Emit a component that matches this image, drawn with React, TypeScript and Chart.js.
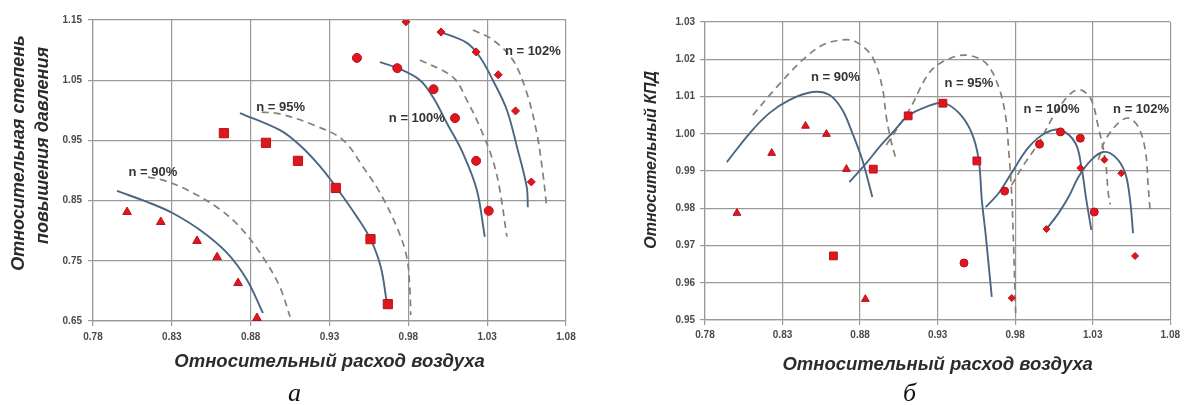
import React, { useEffect, useRef } from 'react';
import { Chart, registerables } from 'chart.js';
Chart.register(...registerables);

// ---------- tick labels ----------
const xTicks = [0.78, 0.83, 0.88, 0.93, 0.98, 1.03, 1.08];
const leftYTicks = [0.65, 0.75, 0.85, 0.95, 1.05, 1.15];
const rightYTicks = [0.95, 0.96, 0.97, 0.98, 0.99, 1.0, 1.01, 1.02, 1.03];

// ---------- chart a: pressure ratio ----------
const aTri90 = [[0.8016, 0.831], [0.823, 0.8145], [0.846, 0.783], [0.8587, 0.756], [0.872, 0.713], [0.884, 0.655]];
const aSq95 = [[0.863, 0.962], [0.8897, 0.946], [0.91, 0.916], [0.934, 0.871], [0.956, 0.786], [0.967, 0.678]];
const aCir100 = [[0.9474, 1.087], [0.973, 1.07], [0.996, 1.035], [1.0096, 0.987], [1.023, 0.916], [1.031, 0.833]];
const aDia102 = [[0.9785, 1.147], [1.0007, 1.13], [1.023, 1.097], [1.037, 1.059], [1.048, 0.999], [1.058, 0.881]];

const aSolid90 = [[0.7952, 0.866], [0.8161, 0.846], [0.8307, 0.829], [0.8479, 0.801], [0.865, 0.763], [0.8777, 0.718], [0.8878, 0.663]];
const aDash90 = [[0.8149, 0.889], [0.8244, 0.884], [0.8396, 0.868], [0.8586, 0.839], [0.8732, 0.806], [0.8878, 0.756], [0.8986, 0.706], [0.905, 0.657]];
const aSolid95 = [[0.8732, 0.9955], [0.8986, 0.967], [0.9112, 0.942], [0.924, 0.907], [0.934, 0.873], [0.9474, 0.823], [0.956, 0.786], [0.9625, 0.74], [0.9664, 0.68]];
const aDash95 = [[0.887, 0.997], [0.8986, 0.994], [0.9195, 0.976], [0.9385, 0.951], [0.9512, 0.906], [0.962, 0.863], [0.9727, 0.806], [0.979, 0.756], [0.981, 0.702], [0.9815, 0.66]];
const aSolid100 = [[0.962, 1.08], [0.9734, 1.07], [0.9874, 1.05], [0.9956, 1.022], [1.0044, 0.979], [1.0146, 0.929], [1.0234, 0.868], [1.0285, 0.79]];
const aDash100 = [[0.9874, 1.0836], [1.0083, 1.055], [1.0171, 1.017], [1.0254, 0.972], [1.0336, 0.917], [1.038, 0.868], [1.0425, 0.79]];
const aSolid102 = [[1.0007, 1.13], [1.0171, 1.112], [1.0254, 1.0885], [1.0336, 1.05], [1.0425, 1.0005], [1.0494, 0.934], [1.0551, 0.8725], [1.0558, 0.839]];
const aDash102 = [[1.021, 1.1334], [1.0336, 1.117], [1.0463, 1.0836], [1.0551, 1.029], [1.0615, 0.962], [1.0653, 0.896], [1.0678, 0.839]];

// ---------- chart б: efficiency ----------
const bTri90 = [[0.8006, 0.9787], [0.823, 0.9948], [0.8448, 1.0021], [0.8583, 0.9999], [0.8712, 0.9905], [0.8834, 0.9556]];
const bSq95 = [[0.8628, 0.9672], [0.8885, 0.9905], [0.911, 1.0048], [0.9334, 1.0082], [0.9553, 0.9927]];
const bCir100 = [[0.947, 0.9653], [0.9732, 0.9846], [0.9957, 0.9972], [1.0092, 1.0005], [1.022, 0.9988], [1.031, 0.979]];
const bDia102 = [[0.9778, 0.9559], [1.0002, 0.9744], [1.022, 0.9908], [1.0375, 0.993], [1.0484, 0.9894], [1.0573, 0.9672]];

const bSolid90 = [[0.7941, 0.9924], [0.8089, 1.0002], [0.8217, 1.0056], [0.8346, 1.0091], [0.8493, 1.0112], [0.8603, 1.0104], [0.8686, 1.0064], [0.875, 1.0002], [0.8814, 0.993], [0.8879, 0.983]];
const bDash90 = [[0.8108, 1.005], [0.8262, 1.0125], [0.8429, 1.0198], [0.8558, 1.0238], [0.8686, 1.0252], [0.8776, 1.0246], [0.8879, 1.0206], [0.8943, 1.0125], [0.8969, 1.0045], [0.9, 0.998], [0.9033, 0.993]];
const bSolid95 = [[0.8731, 0.987], [0.884, 0.9921], [0.8924, 0.9964], [0.9007, 1.0002], [0.911, 1.0048], [0.9226, 1.0072], [0.9334, 1.0083], [0.9437, 1.0056], [0.952, 1.0002], [0.9565, 0.993], [0.9585, 0.9822], [0.961, 0.9728], [0.9649, 0.9562]];
const bDash95 = [[0.8969, 0.997], [0.9117, 1.0064], [0.9245, 1.0163], [0.9355, 1.0198], [0.9483, 1.0211], [0.961, 1.019], [0.9694, 1.0125], [0.9739, 1.0045], [0.9758, 0.9956], [0.9777, 0.9841], [0.979, 0.9696], [0.9803, 0.9519]];
const bSolid100 = [[0.961, 0.9803], [0.9694, 0.9841], [0.9777, 0.9895], [0.9887, 0.9964], [0.9996, 1.0002], [1.0092, 1.001], [1.0188, 0.9975], [1.0227, 0.9911], [1.0259, 0.9822], [1.0291, 0.9742]];
const bDash100 = [[0.9777, 0.9862], [0.9854, 0.9916], [0.9951, 0.9975], [1.006, 1.0056], [1.0163, 1.011], [1.0227, 1.0117], [1.0291, 1.0091], [1.0336, 1.0018], [1.0381, 0.993], [1.04, 0.9841], [1.0413, 0.981]];
const bSolid102 = [[1.0002, 0.9744], [1.008, 0.9787], [1.0144, 0.983], [1.0208, 0.9884], [1.0291, 0.993], [1.0368, 0.9951], [1.0445, 0.9938], [1.0509, 0.9895], [1.0541, 0.9822], [1.056, 0.9733]];
const bDash102 = [[1.0336, 0.993], [1.0381, 0.9983], [1.0466, 1.0029], [1.053, 1.0042], [1.0594, 1.0018], [1.0639, 0.9956], [1.0658, 0.9857], [1.0671, 0.9787]];

// ---------- curve labels ----------
const speedLabels = ['n = 90%', 'n = 95%', 'n = 100%', 'n = 102%'];
const aLabelX = [0.818, 0.899, 0.9854, 1.059];
const aLabelY = [0.8975, 1.004, 0.987, 1.097];
const bLabelX = [0.8641, 0.9501, 1.0034, 1.0612];
const bLabelY = [1.0152, 1.0136, 1.0064, 1.0064];

const xTitle = 'Относительный расход воздуха';
const aYTitle = ['Относительная степень', 'повышения давления'];
const bYTitle = 'Относительный КПД';

// ---------- styles ----------
const RED = '#e0161e';
const RED_EDGE = '#b8121a';
const SOLID = '#4b6683';
const DASH = '#858070';
const GRID = '#999999';
const FONT = '"Liberation Sans", Arial, sans-serif';

const pts = (arr: number[][]) => arr.map(([x, y]) => ({ x, y }));
// leading spaces nudge a rotated, centred title towards the top of its axis
const lift = (s: string, n: number) => ' '.repeat(n) + s;

const markers = (label: string, arr: number[][], style: string, radius: number) => ({
  label,
  data: pts(arr),
  showLine: false,
  pointStyle: style,
  pointRadius: radius,
  pointBackgroundColor: RED,
  pointBorderColor: RED_EDGE,
  pointBorderWidth: 1,
  order: 0,
});

const curve = (label: string, arr: number[][], dashed: boolean) => ({
  label,
  data: pts(arr),
  showLine: true,
  pointRadius: 0,
  borderColor: dashed ? DASH : SOLID,
  borderWidth: dashed ? 1.7 : 1.9,
  borderDash: dashed ? [7, 5] : [],
  tension: 0.35,
  fill: false,
  order: 1,
});

const labelPlugin = {
  id: 'curveLabels',
  afterDatasetsDraw(chart: any, _args: any, opts: any) {
    const { ctx } = chart;
    const xs = chart.scales.x;
    const ys = chart.scales.y;
    ctx.save();
    ctx.font = `bold 13px ${FONT}`;
    ctx.fillStyle = '#333333';
    ctx.textAlign = 'center';
    ctx.textBaseline = 'middle';
    (opts.texts || []).forEach((t: string, i: number) => {
      ctx.fillText(t, xs.getPixelForValue(opts.xs[i]), ys.getPixelForValue(opts.ys[i]));
    });
    ctx.restore();
  },
};

function makeConfig(p: any) {
  return {
    type: 'scatter',
    data: { datasets: p.datasets },
    plugins: [labelPlugin],
    options: {
      responsive: false,
      animation: false,
      devicePixelRatio: 1,
      layout: { padding: p.padding },
      plugins: {
        legend: { display: false },
        tooltip: { enabled: false },
        curveLabels: { texts: speedLabels, xs: p.labelX, ys: p.labelY },
      },
      scales: {
        x: {
          type: 'linear',
          min: 0.78,
          max: 1.08,
          afterBuildTicks: (s: any) => { s.ticks = xTicks.map((v) => ({ value: v })); },
          afterFit: (s: any) => { s.height = p.xHeight; },
          ticks: {
            callback: (v: number) => v.toFixed(2),
            font: { family: FONT, size: 10, weight: 'bold' },
            color: '#4a4a4a',
            padding: p.xTickPad,
            maxRotation: 0,
          },
          grid: { color: GRID, lineWidth: 1.2, tickLength: 5, drawTicks: true },
          border: { color: GRID, width: 1.2 },
          title: {
            display: true,
            text: xTitle,
            font: { family: FONT, size: 18.5, weight: 'bold', style: 'italic', lineHeight: 1.2 },
            color: '#2b2b2b',
            padding: { top: 0, bottom: p.xTitlePad },
          },
        },
        y: {
          type: 'linear',
          min: p.yMin,
          max: p.yMax,
          afterBuildTicks: (s: any) => { s.ticks = p.yTicks.map((v: number) => ({ value: v })); },
          afterFit: (s: any) => { s.width = p.yWidth; },
          ticks: {
            callback: (v: number) => v.toFixed(2),
            font: { family: FONT, size: 10, weight: 'bold' },
            color: '#4a4a4a',
            padding: p.yTickPad,
          },
          grid: { color: GRID, lineWidth: 1.2, tickLength: 5, drawTicks: true },
          border: { color: GRID, width: 1.2 },
          title: {
            display: true,
            text: p.yTitle,
            font: { family: FONT, size: p.yTitleSize, weight: 'bold', style: 'italic', lineHeight: p.yTitleLH },
            color: '#2b2b2b',
            padding: { top: p.yTitlePad, bottom: 0 },
          },
        },
      },
    },
  };
}

const configA = () =>
  makeConfig({
    datasets: [
      markers('a90', aTri90, 'triangle', 5),
      markers('a95', aSq95, 'rect', 6.5),
      markers('a100', aCir100, 'circle', 4.5),
      markers('a102', aDia102, 'rectRot', 4),
      curve('a90s', aSolid90, false),
      curve('a90d', aDash90, true),
      curve('a95s', aSolid95, false),
      curve('a95d', aDash95, true),
      curve('a100s', aSolid100, false),
      curve('a100d', aDash100, true),
      curve('a102s', aSolid102, false),
      curve('a102d', aDash102, true),
    ],
    padding: { top: 20, right: 24, left: 0, bottom: 0 },
    xHeight: 59,
    yWidth: 93,
    yMin: 0.65,
    yMax: 1.15,
    yTicks: leftYTicks,
    xTickPad: 5,
    yTickPad: 6,
    xTitlePad: 7,
    yTitle: [lift(aYTitle[0], 7), lift(aYTitle[1], 10)],
    yTitleSize: 18,
    yTitleLH: 1.33,
    yTitlePad: 7,
    labelX: aLabelX,
    labelY: aLabelY,
  });

const configB = () =>
  makeConfig({
    datasets: [
      markers('b90', bTri90, 'triangle', 4.5),
      markers('b95', bSq95, 'rect', 5.5),
      markers('b100', bCir100, 'circle', 4),
      markers('b102', bDia102, 'rectRot', 3.5),
      curve('b90s', bSolid90, false),
      curve('b90d', bDash90, true),
      curve('b95s', bSolid95, false),
      curve('b95d', bDash95, true),
      curve('b100s', bSolid100, false),
      curve('b100d', bDash100, true),
      curve('b102s', bSolid102, false),
      curve('b102d', bDash102, true),
    ],
    padding: { top: 22, right: 12, left: 0, bottom: 0 },
    xHeight: 60,
    yWidth: 111,
    yMin: 0.95,
    yMax: 1.03,
    yTicks: rightYTicks,
    xTickPad: 4,
    yTickPad: 5,
    xTitlePad: 4,
    yTitle: lift(bYTitle, 5),
    yTitleSize: 16,
    yTitleLH: 1.2,
    yTitlePad: 48,
    labelX: bLabelX,
    labelY: bLabelY,
  });

export default function App() {
  const refA = useRef<HTMLCanvasElement | null>(null);
  const refB = useRef<HTMLCanvasElement | null>(null);

  useEffect(() => {
    const ca = new Chart(refA.current as HTMLCanvasElement, configA() as any);
    const cb = new Chart(refB.current as HTMLCanvasElement, configB() as any);
    return () => {
      ca.destroy();
      cb.destroy();
    };
  }, []);

  const caption: React.CSSProperties = {
    position: 'absolute',
    fontFamily: '"Liberation Serif", "Times New Roman", serif',
    fontStyle: 'italic',
    fontSize: 26,
    lineHeight: '26px',
    color: '#111',
  };

  return (
    <div style={{ position: 'absolute', left: 0, top: 0, width: 1184, height: 405, background: '#fff', overflow: 'hidden' }}>
      <canvas ref={refA} width={590} height={380} style={{ position: 'absolute', left: 0, top: 0, width: 590, height: 380 }} />
      <canvas ref={refB} width={590} height={380} style={{ position: 'absolute', left: 594, top: 0, width: 590, height: 380 }} />
      <div style={{ ...caption, left: 288, top: 380 }}>а</div>
      <div style={{ ...caption, left: 903, top: 380 }}>б</div>
    </div>
  );
}
